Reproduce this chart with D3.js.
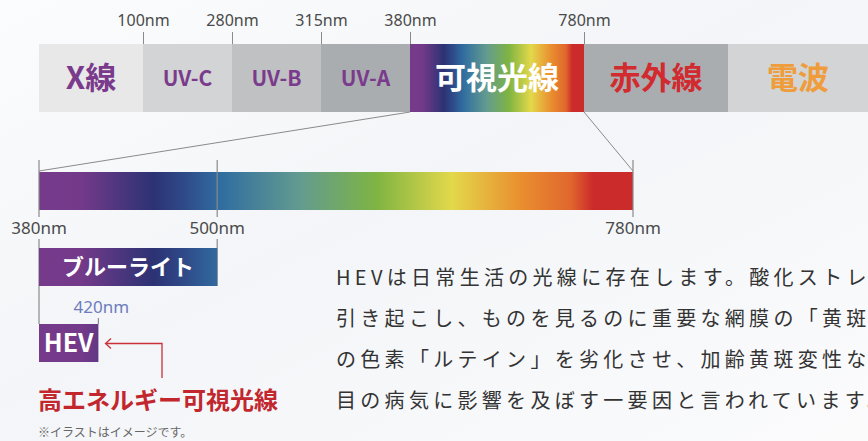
<!DOCTYPE html>
<html><head><meta charset="utf-8">
<script src="https://cdn.jsdelivr.net/npm/d3@7/dist/d3.min.js"></script>
<style>
html,body{margin:0;padding:0;background:#fff;overflow:hidden}
svg{display:block}
</style></head>
<body>
<svg id="c" width="868" height="441"></svg>
<script>
// ---- data ----
const topSegments = ["X線","UV-C","UV-B","UV-A","可視光線","赤外線","電波"];
const topTickLabels = ["100nm","280nm","315nm","380nm","780nm"];
const nmTicks = [380,500,780];
const blueLightRange = [380,500];
const hevRange = [380,420];
const hevTick = 420;
const spectrumStopsNm = [380,408,457,478,502,556,607,658,704,738,753,780];
const spectrumColors = ["#763a8b","#743a8a","#2c3274","#2f4a88","#306da0","#639b90","#7eb442","#e3d84b","#e98f2f","#e0672d","#cc2b2b","#cc2b2b"];
const paragraph = [
  "HEVは日常生活の光線に存在します。酸化ストレスを",
  "引き起こし、ものを見るのに重要な網膜の「黄斑部」",
  "の色素「ルテイン」を劣化させ、加齢黄斑変性など",
  "目の病気に影響を及ぼす一要因と言われています。"
];

// ---- styles ----
const segFill = ["#e8e8e8","#d3d4d5","#bfc1c3","#aaadaf",null,"#aaadaf","#d3d4d5"];
const segText = ["#7a3b8c","#7a3b8c","#7a3b8c","#7a3b8c","#ffffff","#d12a2f","#ef9d3c"];
const segSize = [31,21,21,21,31,31,31];
const JP = "'Noto Sans CJK JP','Noto Sans',sans-serif";
const NUM = "'Noto Sans','DejaVu Sans',sans-serif";

const svg = d3.select("#c");
const defs = svg.append("defs");

// background
const bg = defs.append("linearGradient").attr("id","bg").attr("x1","0").attr("y1","0").attr("x2","1").attr("y2","1");
bg.append("stop").attr("offset","0").attr("stop-color","#fbfcfd");
bg.append("stop").attr("offset","0.45").attr("stop-color","#f3f5f8");
bg.append("stop").attr("offset","1").attr("stop-color","#fbfbfc");
svg.append("rect").attr("width",868).attr("height",441).attr("fill","url(#bg)");

// scales
const topX = d3.scaleLinear().domain(d3.range(8)).range([39,143,232,321,410,584,728,868]);
const x = d3.scaleLinear().domain([380,780]).range([39,633]);

function spectrumGradient(id, x0, x1) {
  const g = defs.append("linearGradient").attr("id",id)
    .attr("gradientUnits","userSpaceOnUse").attr("x1",x0).attr("x2",x1).attr("y1",0).attr("y2",0);
  const off = d3.scaleLinear().domain([380,780]).range([0,1]);
  g.selectAll("stop").data(spectrumStopsNm).join("stop")
    .attr("offset",d=>off(d)).attr("stop-color",(d,i)=>spectrumColors[i]);
}
spectrumGradient("specTop", topX(4), topX(5));
spectrumGradient("specMain", x(380), x(780));

// ---- top bar ----
const topY0 = 44, topH = 68;
const segG = svg.append("g");
segG.selectAll("rect").data(topSegments).join("rect")
  .attr("x",(d,i)=>topX(i)).attr("y",topY0)
  .attr("width",(d,i)=>topX(i+1)-topX(i)).attr("height",topH)
  .attr("fill",(d,i)=>segFill[i]||"url(#specTop)");
segG.selectAll("text").data(topSegments).join("text")
  .attr("x",(d,i)=>(topX(i)+topX(i+1))/2).attr("y",topY0+topH/2)
  .attr("dy","0.36em").attr("text-anchor","middle")
  .attr("font-family",JP).attr("font-weight",700)
  .attr("font-size",(d,i)=>segSize[i]).attr("fill",(d,i)=>segText[i])
  .text(d=>d);

// top ticks
const tickG = svg.append("g");
topTickLabels.forEach((t,i)=>{
  const xx = topX(i+1)+0.5;
  tickG.append("line").attr("x1",xx).attr("x2",xx).attr("y1",32).attr("y2",topY0)
    .attr("stroke","#8a8a8a").attr("stroke-width",1);
  tickG.append("text").attr("x",xx).attr("y",26).attr("text-anchor","middle")
    .attr("font-family",NUM).attr("font-size",16).attr("fill","#4a4a4a").text(t);
});

// connectors
const specY0 = 172, specH = 38;
svg.append("line").attr("x1",topX(4)).attr("y1",topY0+topH).attr("x2",x(380)).attr("y2",specY0-1)
  .attr("stroke","#8a8a8a").attr("stroke-width",1);
svg.append("line").attr("x1",topX(5)).attr("y1",topY0+topH).attr("x2",x(780)).attr("y2",specY0-1)
  .attr("stroke","#8a8a8a").attr("stroke-width",1);

// ---- spectrum bar ----
svg.append("rect").attr("x",x(380)).attr("y",specY0).attr("width",x(780)-x(380)).attr("height",specH)
  .attr("fill","url(#specMain)");

// spectrum ticks
nmTicks.forEach(v=>{
  const xx = x(v);
  svg.append("line").attr("x1",xx).attr("x2",xx).attr("y1",160).attr("y2",specY0+specH+7)
    .attr("stroke","#8a8a8a").attr("stroke-width",1.2);
  svg.append("text").attr("x",xx).attr("y",234).attr("text-anchor","middle")
    .attr("font-family",NUM).attr("font-size",17).attr("fill","#4a4a4a").text(v+"nm");
});

// blue light bar
const blY0 = 248, blH = 38;
svg.append("line").attr("x1",x(380)).attr("x2",x(380)).attr("y1",239).attr("y2",324)
  .attr("stroke","#8a8a8a").attr("stroke-width",1.2);
svg.append("line").attr("x1",x(500)).attr("x2",x(500)).attr("y1",239).attr("y2",blY0+blH)
  .attr("stroke","#8a8a8a").attr("stroke-width",1.2);
svg.append("rect").attr("x",x(blueLightRange[0])).attr("y",blY0)
  .attr("width",x(blueLightRange[1])-x(blueLightRange[0])).attr("height",blH).attr("fill","url(#specMain)");
svg.append("text").attr("x",(x(blueLightRange[0])+x(blueLightRange[1]))/2).attr("y",blY0+blH/2)
  .attr("dy","0.36em").attr("text-anchor","middle").attr("font-family",JP).attr("font-weight",700)
  .attr("font-size",22).attr("fill","#fff").text("ブルーライト");

// HEV
const hevY0 = 324, hevH = 38;
svg.append("line").attr("x1",x(hevTick)).attr("x2",x(hevTick)).attr("y1",318).attr("y2",hevY0)
  .attr("stroke","#8a8a8a").attr("stroke-width",1.2);
svg.append("text").attr("x",x(hevTick)+3).attr("y",313).attr("text-anchor","middle")
  .attr("font-family",NUM).attr("font-size",17).attr("fill","#6d7cbd").text(hevTick+"nm");
svg.append("rect").attr("x",x(hevRange[0])).attr("y",hevY0)
  .attr("width",x(hevRange[1])-x(hevRange[0])).attr("height",hevH).attr("fill","url(#specMain)");
svg.append("text").attr("x",(x(hevRange[0])+x(hevRange[1]))/2).attr("y",hevY0+hevH/2)
  .attr("dy","0.36em").attr("text-anchor","middle").attr("font-family",JP).attr("font-weight",700)
  .attr("font-size",25).attr("fill","#fff").text("HEV");

// arrow
svg.append("path").attr("d","M162,378 V343.5 H106").attr("fill","none").attr("stroke","#c8313a").attr("stroke-width",1.3);
svg.append("path").attr("d","M111,338.5 L105.5,343.5 L111,348.5").attr("fill","none").attr("stroke","#c8313a").attr("stroke-width",1.3);

svg.append("text").attr("x",38).attr("y",400).attr("dy","0.36em")
  .attr("font-family",JP).attr("font-weight",700).attr("font-size",24).attr("fill","#c1272d")
  .text("高エネルギー可視光線");
svg.append("text").attr("x",38).attr("y",433).attr("dy","0.36em")
  .attr("font-family",JP).attr("font-size",12).attr("fill","#666").text("※イラストはイメージです。");

// paragraph
svg.append("g").selectAll("text").data(paragraph).join("text")
  .attr("x",336).attr("y",(d,i)=>278+i*41).attr("dy","0.36em")
  .attr("font-family",JP).attr("font-weight",400).attr("font-size",20).attr("letter-spacing",4.3)
  .attr("fill","#333").text(d=>d);
</script>
</body></html>
